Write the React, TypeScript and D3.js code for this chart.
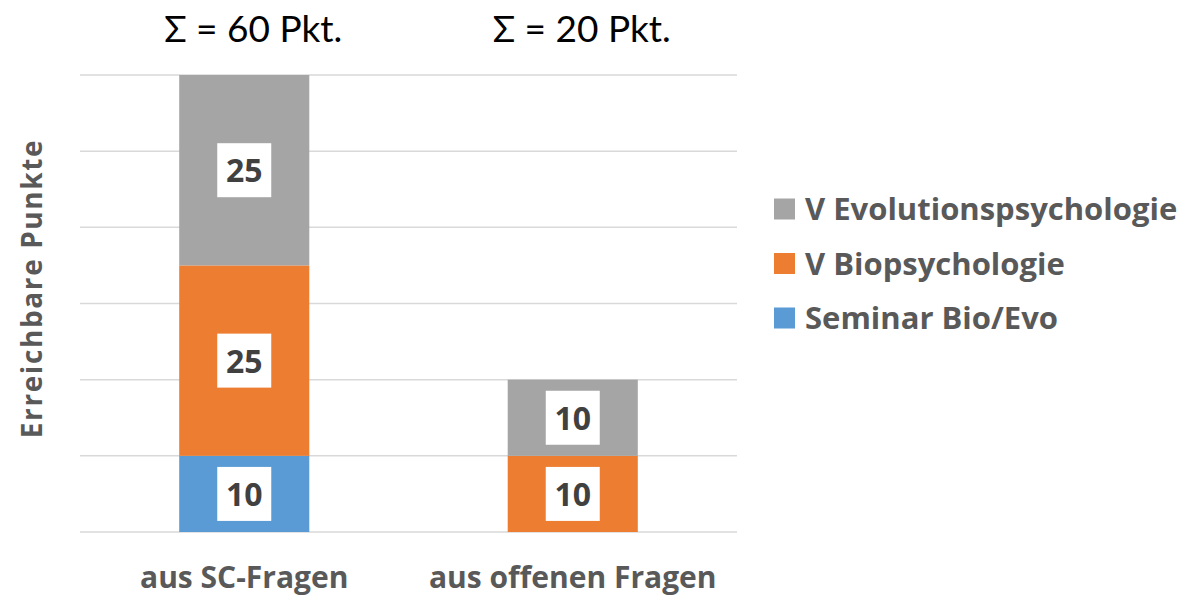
import * as d3 from 'd3';

const categories = ['aus SC-Fragen', 'aus offenen Fragen'];
const seriesNames = ['Seminar Bio/Evo', 'V Biopsychologie', 'V Evolutionspsychologie'];
const seminar = [10, 0];
const bio = [25, 10];
const evo = [25, 10];
const totals = ['Σ = 60 Pkt.', 'Σ = 20 Pkt.'];
const yTicks = [0, 10, 20, 30, 40, 50, 60];

const colors = ['#5B9BD5', '#ED7D31', '#A5A5A5'];
const font = '"Open Sans", Lato, sans-serif';
const titleFont = 'Lato, "Open Sans", sans-serif';

type Row = { cat: string; [k: string]: number | string };

export default function App() {
  const width = 1183;
  const height = 596;
  const left = 80;
  const right = 737;

  const rows: Row[] = categories.map((c, i) => ({
    cat: c,
    [seriesNames[0]]: seminar[i],
    [seriesNames[1]]: bio[i],
    [seriesNames[2]]: evo[i],
  }));

  const stack = d3.stack<Row>().keys(seriesNames).value((d, k) => d[k] as number);
  const layers = stack(rows);

  const x = d3
    .scaleBand()
    .domain(categories)
    .range([left, right])
    .paddingInner(0.604)
    .paddingOuter(0.302);
  const y = d3.scaleLinear().domain([0, 60]).range([532, 75]);

  const legendOrder = [2, 1, 0];

  return (
    <svg width={width} height={height} style={{ position: 'absolute', left: 0, top: 0 }}>
      <rect width={width} height={height} fill="#fff" />
      {yTicks.map((t) => (
        <line key={t} x1={left} x2={right} y1={y(t)} y2={y(t)} stroke="#D9D9D9" strokeWidth={1.5} />
      ))}
      {layers.map((layer, li) =>
        layer.map((seg, ci) => {
          const v = seg[1] - seg[0];
          if (v <= 0) return null;
          const bx = x(categories[ci])!;
          const bw = x.bandwidth();
          const y0 = y(seg[0]);
          const y1 = y(seg[1]);
          const cy = (y0 + y1) / 2;
          return (
            <g key={`${li}-${ci}`}>
              <rect x={bx} y={y1} width={bw} height={y0 - y1} fill={colors[li]} />
              <rect x={bx + bw / 2 - 27} y={cy - 27} width={54} height={54} fill="#fff" />
              <text
                x={bx + bw / 2}
                y={cy + 12}
                textAnchor="middle"
                fontFamily={font}
                fontWeight={700}
                fontSize={32}
                fill="#404040"
              >
                {v}
              </text>
            </g>
          );
        })
      )}
      {totals.map((t, i) => (
        <text
          key={t}
          x={x(categories[i])! + x.bandwidth() / 2 + 9}
          y={42}
          textAnchor="middle"
          fontFamily={titleFont}
          fontSize={37}
          fill="#000"
        >
          {t}
        </text>
      ))}
      {categories.map((c) => (
        <text
          key={c}
          x={x(c)! + x.bandwidth() / 2}
          y={588}
          textAnchor="middle"
          fontFamily={font}
          fontWeight={700}
          fontSize={30}
          fill="#595959"
        >
          {c}
        </text>
      ))}
      <text
        transform={`translate(42, ${(140 + 437) / 2}) rotate(-90)`}
        textAnchor="middle"
        fontFamily={font}
        fontWeight={700}
        fontSize={28}
        letterSpacing={1.6}
        fill="#595959"
      >
        Erreichbare Punkte
      </text>
      {legendOrder.map((si, i) => {
        const ly = 209 + i * 54.5;
        return (
          <g key={seriesNames[si]}>
            <rect x={774} y={ly - 10.5} width={21} height={21} fill={colors[si]} />
            <text
              x={805}
              y={ly + 11}
              fontFamily={font}
              fontWeight={700}
              fontSize={31}
              fill="#595959"
            >
              {seriesNames[si]}
            </text>
          </g>
        );
      })}
    </svg>
  );
}
